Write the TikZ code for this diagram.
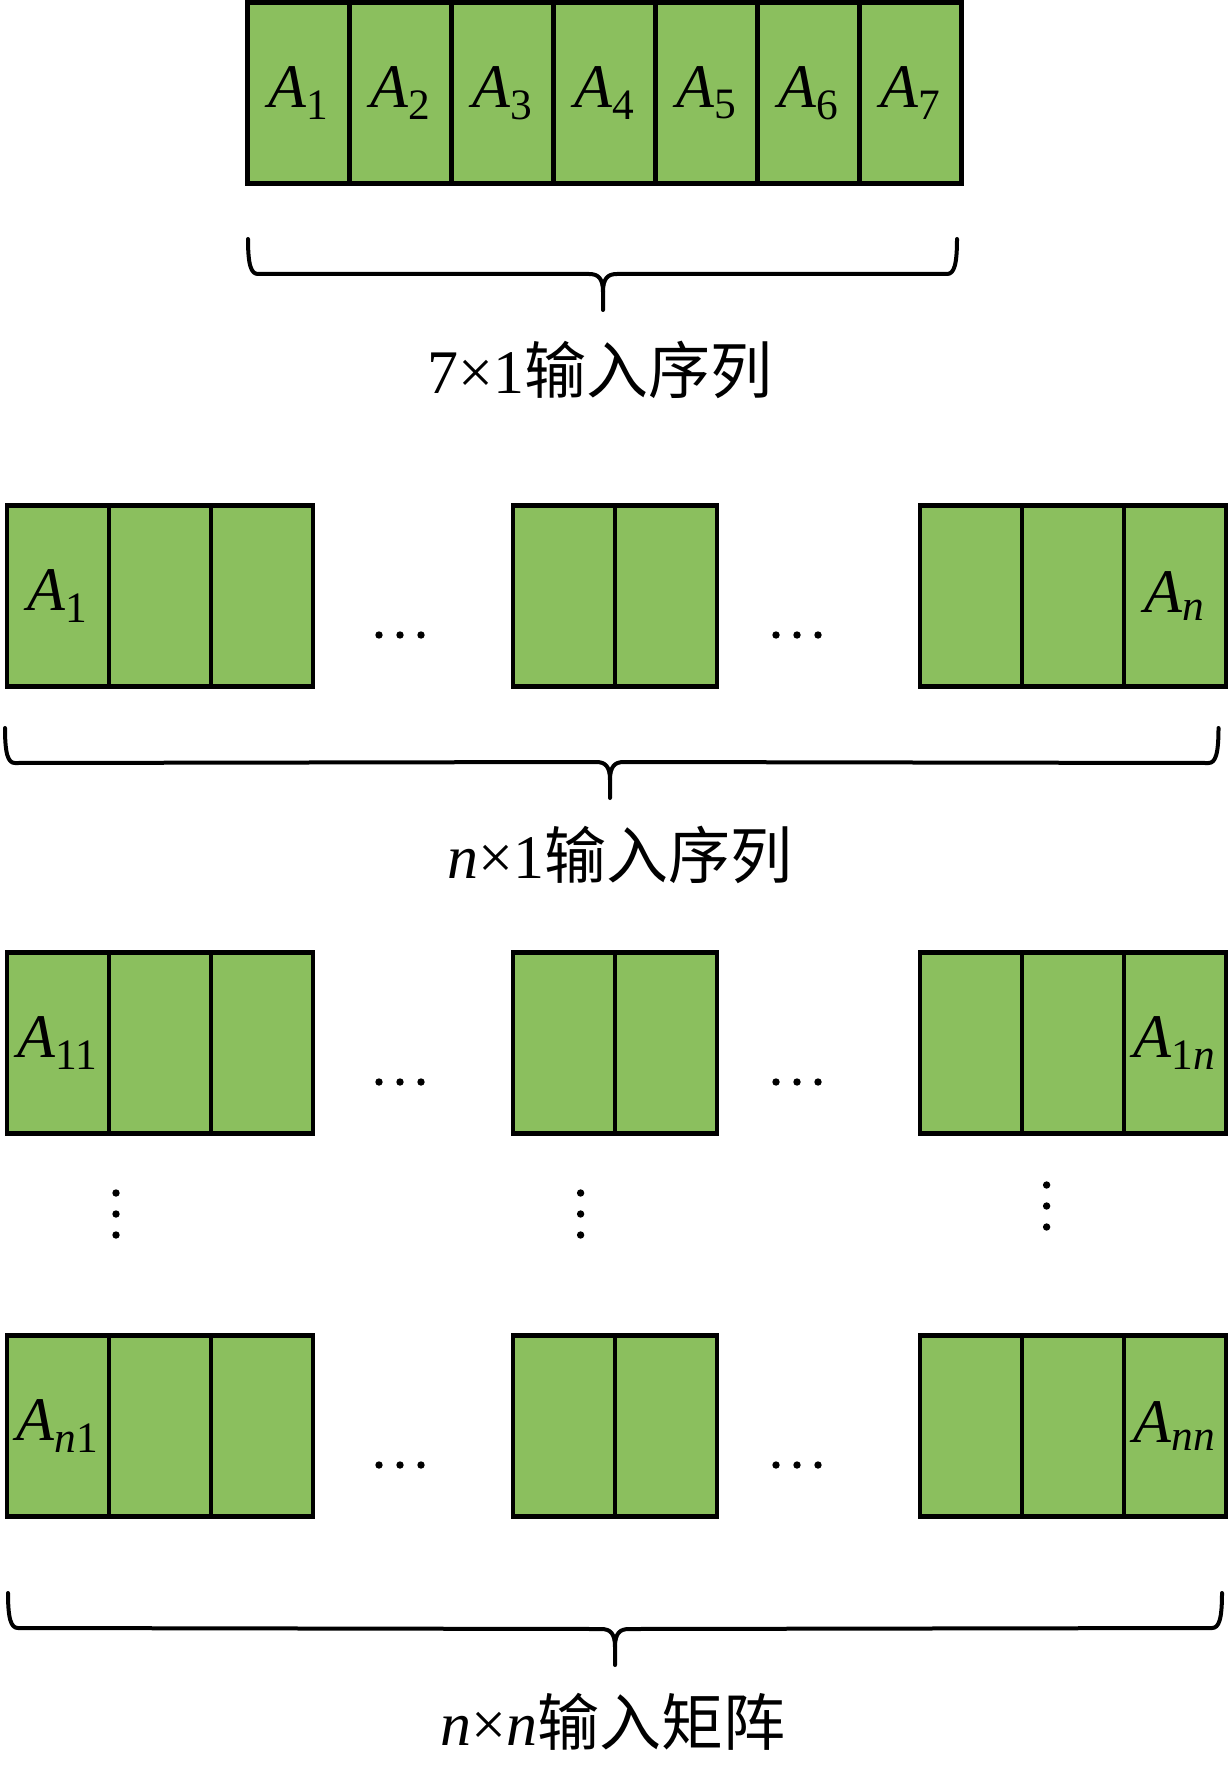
\documentclass[tikz,border=0pt]{standalone}
\usepackage{fontspec}
\setmainfont{Liberation Serif}
\newfontfamily\cjk{Noto Sans CJK SC}
\usepackage{xcolor}
\usepackage{tikz}
\usetikzlibrary{calc,positioning}
\definecolor{cellgreen}{RGB}{139,191,94}
\tikzset{
  cell/.style={rectangle, draw=black, line width=2.25pt, fill=cellgreen, minimum width=51pt, minimum height=90.5pt, inner sep=0pt, outer sep=0pt, font=\fontsize{31}{36}\selectfont},
  lbl/.style={inner sep=0pt, font=\fontsize{31}{36}\selectfont},
  brc/.style={draw=black, line width=2pt, line cap=round, line join=round}
}
% one row of the n x n picture: three groups of cells and two runs of dots
\newcommand{\cellrow}[4]{%
  \node[cell] (#1a1) at (58,#2) {#3};
  \node[cell,right=0pt of #1a1] (#1a2) {};
  \node[cell,right=0pt of #1a2] (#1a3) {};
  \node[cell] (#1b1) at (564,#2) {};
  \node[cell,right=0pt of #1b1] (#1b2) {};
  \node[cell] (#1c1) at (971,#2) {};
  \node[cell,right=0pt of #1c1] (#1c2) {};
  \node[cell,right=0pt of #1c2] (#1c3) {#4};
  \foreach \dx in {-21,0,21} {
    \fill (400+\dx,#2+39) circle (3.7);
    \fill (797+\dx,#2+39) circle (3.7);
  }
}
% brace under a row: left end, right end, tip
\newcommand{\rowbrace}[3]{%
  \draw[brc] (#1) .. controls +(0,26) and +(-7,0) .. ($(#1)+(10,35)$) -- ($(#3)+(-14,-36)$)
    .. controls +(9,0) and +(0,-14) .. ($(#3)+(0,-18)$) -- (#3);
  \draw[brc] (#2) .. controls +(0,26) and +(7,0) .. ($(#2)+(-10,35)$) -- ($(#3)+(14,-36)$)
    .. controls +(-9,0) and +(0,-14) .. ($(#3)+(0,-18)$);
}

\begin{document}
\begin{tikzpicture}[x=0.5pt,y=-0.5pt]
	\useasboundingbox (0,0) rectangle (1229,1765);

	% 7 x 1 sequence
	\node[cell] (t1) at (298.6,93) {\textit{A}\textsubscript{1}};
	\foreach \i [count=\j from 1] in {2,...,7}
		\node[cell,right=0pt of t\j] (t\i) {\textit{A}\textsubscript{\i}};
	\coordinate (b1l) at (248,239);
	\coordinate (b1r) at (957,239);
	\coordinate (b1t) at (603,310);
	\rowbrace{b1l}{b1r}{b1t}
	\node[lbl] (lab1) at (600,370) {7×1\cjk 输入序列};

	% n x 1 sequence
	\cellrow{s}{596}{\textit{A}\textsubscript{1}}{\textit{A}\textsubscript{\textit{n}}}
	\coordinate (b2l) at (5,728);
	\coordinate (b2r) at (1218.5,728);
	\coordinate (b2t) at (610,798);
	\rowbrace{b2l}{b2r}{b2t}
	\node[lbl] (lab2) at (620,855) {\textit{n}×1\cjk 输入序列};

	% n x n matrix
	\cellrow{m}{1043}{\textit{A}\textsubscript{11}}{\textit{A}\textsubscript{1\textit{n}}}
	\cellrow{z}{1426}{\textit{A}\textsubscript{\textit{n}1}}{\textit{A}\textsubscript{\textit{nn}}}
	\foreach \x/\y in {116/1193,580.6/1193,1046.6/1185}
		\foreach \dy in {0,21,42}
			\fill (\x,\y+\dy) circle (3.7);
	\coordinate (b3l) at (8,1593);
	\coordinate (b3r) at (1222,1593);
	\coordinate (b3t) at (615,1665);
	\rowbrace{b3l}{b3r}{b3t}
	\node[lbl] (lab3) at (613,1722) {\textit{n}×\textit{n}\cjk 输入矩阵};
\end{tikzpicture}
\end{document}
